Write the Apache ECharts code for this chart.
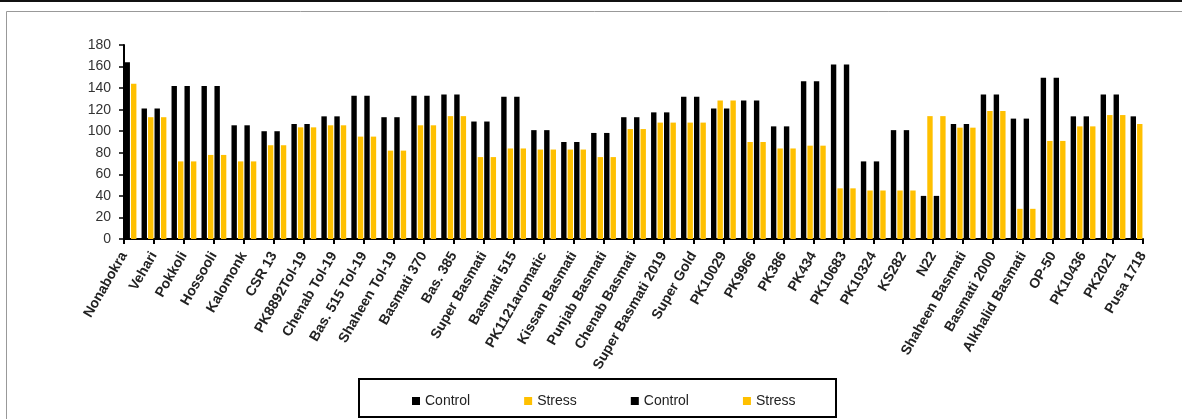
<!DOCTYPE html>
<html>
<head>
<meta charset="utf-8">
<script src="https://cdn.jsdelivr.net/npm/echarts@6/dist/echarts.min.js"></script>
<style>
html,body{margin:0;padding:0;background:#fff;}
#chart{width:1182px;height:419px;}
</style>
</head>
<body>
<div id="chart"></div>
<script>
const categories = ['Nonabokra','Vehari','Pokkoli','Hossooli','Kalomonk','CSR 13','PK8892Tol-19','Chenab Tol-19','Bas. 515 Tol-19','Shaheen Tol-19','Basmati 370','Bas. 385','Super Basmati','Basmati 515','PK1121aromatic','Kissan Basmati','Punjab Basmati','Chenab Basmati','Super Basmati 2019','Super Gold','PK10029','PK9966','PK386','PK434','PK10683','PK10324','KS282','N22','Shaheen Basmati','Basmati 2000','Alkhalid Basmati','OP-50','PK10436','PK2021','Pusa 1718'];
const control = [164,121,142,142,105.5,100,106.7,113.8,133,113,133,134,109,132,101,90,98.4,113,117.5,132,121,128.4,104.5,146.3,161.8,72,101,40,106.7,134,111.7,149.7,113.8,134,113.8];
const stress = [144,113,72,78,72,87,103.6,105.5,95,82,105.5,114,76,84,83,83,76,102,108,108,128.4,90,84,86.6,47,45,45,114,103.3,118.8,28,91,104.5,115,106.7];
const yTicks = {min: 0, max: 180, interval: 20};
const seriesNames = ['Control', 'Stress', 'Control\u200B', 'Stress\u200B'];

const BLACK = '#000000';
const GOLD = '#FFC000';

// The original chart places categories on tick marks, so the half of the first
// and last clusters that falls outside the plot area is cut off.
const n = categories.length;
const hideFirst = arr => arr.map((v, i) => (i === 0 ? '-' : v));
const hideLast = arr => arr.map((v, i) => (i === n - 1 ? '-' : v));

const chart = echarts.init(document.getElementById('chart'), null, {renderer: 'canvas'});

function barSeries(name, data, color) {
  return {
    name: name,
    type: 'bar',
    data: data,
    barWidth: '18%',
    barGap: '20%',
    itemStyle: {color: color},
    emphasis: {disabled: true}
  };
}

chart.setOption({
  animation: false,
  backgroundColor: '#fff',
  grid: {left: 124, right: 39, top: 45, bottom: 180, containLabel: false},
  legend: {
    data: seriesNames,
    left: 407,
    top: 389,
    itemWidth: 8,
    itemHeight: 8,
    itemGap: 54,
    icon: 'rect',
    textStyle: {fontFamily: 'Liberation Sans', fontSize: 14, color: '#222'},
    selectedMode: false
  },
  xAxis: {
    type: 'category',
    data: categories,
    boundaryGap: false,
    axisLine: {show: true, lineStyle: {color: BLACK, width: 2}},
    axisTick: {show: true, interval: 0, length: 5, lineStyle: {color: BLACK, width: 2}},
    axisLabel: {
      interval: 0,
      rotate: 60,
      margin: 14,
      fontFamily: 'Liberation Sans',
      fontSize: 14,
      fontWeight: 'bold',
      color: '#222'
    },
    splitLine: {show: false}
  },
  yAxis: {
    type: 'value',
    min: yTicks.min,
    max: yTicks.max,
    interval: yTicks.interval,
    axisLine: {show: true, lineStyle: {color: BLACK, width: 2}},
    axisTick: {show: true, length: 5, lineStyle: {color: BLACK, width: 1.5}},
    axisLabel: {margin: 13, fontFamily: 'Liberation Sans', fontSize: 14, color: '#333'},
    splitLine: {show: false}
  },
  graphic: [
    {type: 'rect', z: -10, shape: {x: 0, y: 0, width: 1182, height: 2}, style: {fill: '#111'}},
    {type: 'rect', z: -10, shape: {x: 6.5, y: 11.5, width: 1300, height: 600}, style: {fill: 'none', stroke: '#999', lineWidth: 1}},
    {type: 'rect', z: -5, shape: {x: 359, y: 379, width: 477, height: 38}, style: {fill: 'none', stroke: '#000', lineWidth: 2}}
  ],
  series: [
    barSeries(seriesNames[0], hideFirst(control), BLACK),
    barSeries(seriesNames[1], hideFirst(stress), GOLD),
    barSeries(seriesNames[2], hideLast(control), BLACK),
    barSeries(seriesNames[3], hideLast(stress), GOLD)
  ]
});
</script>
</body>
</html>
